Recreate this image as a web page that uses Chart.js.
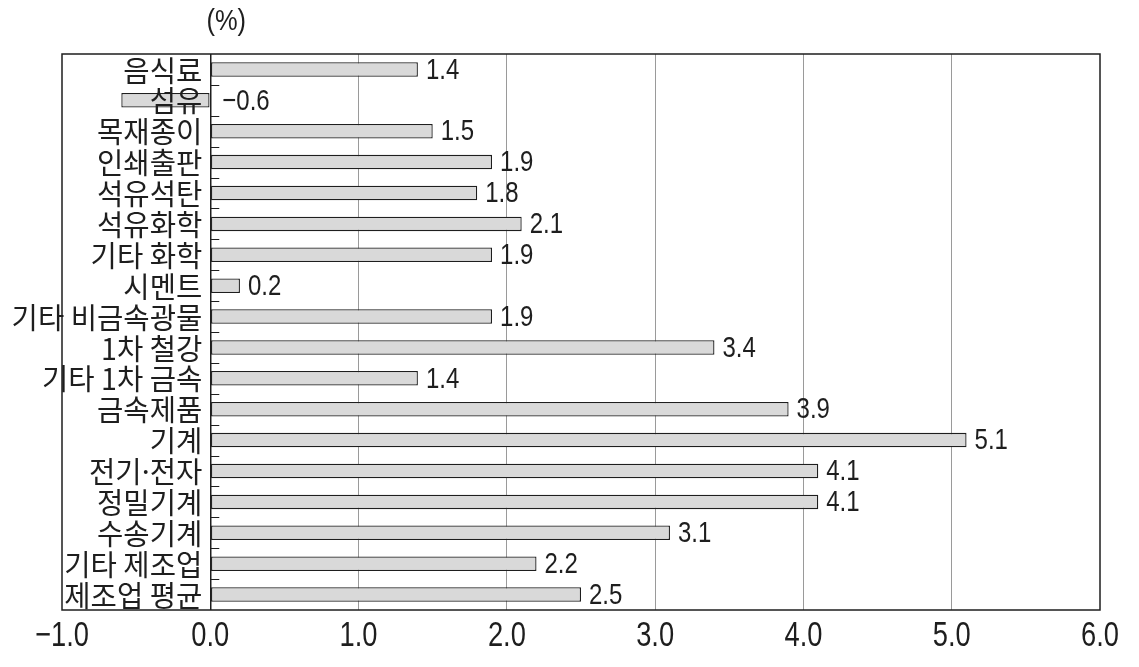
<!DOCTYPE html>
<html lang="ko">
<head>
<meta charset="utf-8">
<script src="https://cdn.jsdelivr.net/npm/chart.js@4/dist/chart.umd.min.js"></script>
<style>
  html, body { margin: 0; padding: 0; background: #fff; }
  #wrap { width: 1139px; height: 667px; }
</style>
</head>
<body>
<div id="wrap"><canvas id="growthChart" width="1139" height="667"></canvas></div>
<script>
const ctx = document.getElementById('growthChart').getContext('2d');

// Data
const categories = [
  '음식료', '섬유', '목재종이', '인쇄출판', '석유석탄', '석유화학', '기타 화학',
  '시멘트', '기타 비금속광물', '1차 철강', '기타 1차 금속', '금속제품', '기계',
  '전기·전자', '정밀기계', '수송기계', '기타 제조업', '제조업 평균'
];
const growthRates = [
  1.4, -0.6, 1.5, 1.9, 1.8, 2.1, 1.9, 0.2, 1.9, 3.4, 1.4, 3.9, 5.1, 4.1, 4.1, 3.1, 2.2, 2.5
];
const xTicks = [-1, 0, 1, 2, 3, 4, 5, 6];
const unitLabel = '(%)';

const numFont = '"Liberation Sans", Arial, sans-serif';
const krFont = '"Noto Sans CJK KR", "Noto Sans", sans-serif';
const ink = '#1e1e1e';

function fmt(v) {
  const s = Math.abs(v).toFixed(1);
  return v < 0 ? '\u2212' + s : s;
}

// draws text squeezed horizontally, like the condensed face in the original
function narrowText(c, text, x, y, font, sx, sy, align) {
  c.save();
  c.font = font;
  c.textBaseline = 'middle';
  c.textAlign = align;
  c.translate(x, y);
  c.scale(sx, sy);
  c.fillText(text, 0, 0);
  c.restore();
}

const labelPlugin = {
  id: 'labelPlugin',
  afterDatasetsDraw(chart) {
    const c = chart.ctx;
    const xs = chart.scales.x;
    const ys = chart.scales.y;
    const x0 = xs.getPixelForValue(0);
    const meta = chart.getDatasetMeta(0);
    c.save();

    // small ticks on the zero line at category boundaries
    c.strokeStyle = ink;
    c.lineWidth = 1;
    for (let i = 1; i < categories.length; i++) {
      const y = Math.round((ys.getPixelForTick(i - 1) + ys.getPixelForTick(i)) / 2) + 0.5;
      c.beginPath();
      c.moveTo(x0, y);
      c.lineTo(x0 + 9, y);
      c.stroke();
    }

    // category names, right-aligned just left of the zero line
    c.fillStyle = ink;
    categories.forEach((name, i) => {
      narrowText(c, name, x0 - 8, ys.getPixelForTick(i) + 1, '27px ' + krFont, 1.06, 1.08, 'right');
    });

    // value labels
    meta.data.forEach((bar, i) => {
      const v = growthRates[i];
      const x = v < 0 ? x0 + 12 : bar.x + 8;
      narrowText(c, fmt(v), x, bar.y + 1, '30px ' + numFont, 0.8, 1, 'left');
    });
    c.restore();
  },
  afterDraw(chart) {
    const c = chart.ctx;
    const a = chart.chartArea;
    const xs = chart.scales.x;
    c.save();
    c.strokeStyle = ink;
    c.lineWidth = 1.5;
    c.strokeRect(a.left, a.top, a.right - a.left, a.bottom - a.top);
    c.fillStyle = ink;
    // x tick labels at the scale's tick positions
    xs.ticks.forEach((t) => {
      narrowText(c, fmt(t.value), xs.getPixelForValue(t.value), a.bottom + 26, '35px ' + numFont, 0.78, 1, 'center');
    });
    narrowText(c, unitLabel, xs.getPixelForValue(0) + 16, 22, '30px ' + numFont, 0.85, 1, 'center');
    c.restore();
  }
};

const growthChart = new Chart(ctx, {
  type: 'bar',
  data: {
    labels: categories,
    datasets: [
      {
        data: growthRates,
        backgroundColor: '#d9d9d9',
        borderColor: ink,
        borderWidth: 1.3,
        borderSkipped: false,
        barPercentage: 0.47,
        categoryPercentage: 1,
      },
    ],
  },
  options: {
    indexAxis: 'y',
    responsive: false,
    animation: false,
    layout: {
      padding: { left: 62, right: 39, top: 54, bottom: 57 },
    },
    plugins: {
      legend: { display: false },
      tooltip: { enabled: false },
    },
    scales: {
      x: {
        min: xTicks[0],
        max: xTicks[xTicks.length - 1],
        afterBuildTicks: (scale) => {
          scale.ticks = xTicks.map((v) => ({ value: v }));
        },
        ticks: { display: false },
        grid: {
          drawTicks: false,
          lineWidth: (c) => (c.tick && c.tick.value === 0 ? 1.5 : 1),
          color: (c) => {
            const v = c.tick ? c.tick.value : null;
            if (v === 0) return ink;
            if (v === xTicks[0] || v === xTicks[xTicks.length - 1]) return 'rgba(0,0,0,0)';
            return '#9a9a9a';
          },
        },
        border: { display: false },
      },
      y: {
        display: false,
      },
    },
  },
  plugins: [labelPlugin],
});
</script>
</body>
</html>
